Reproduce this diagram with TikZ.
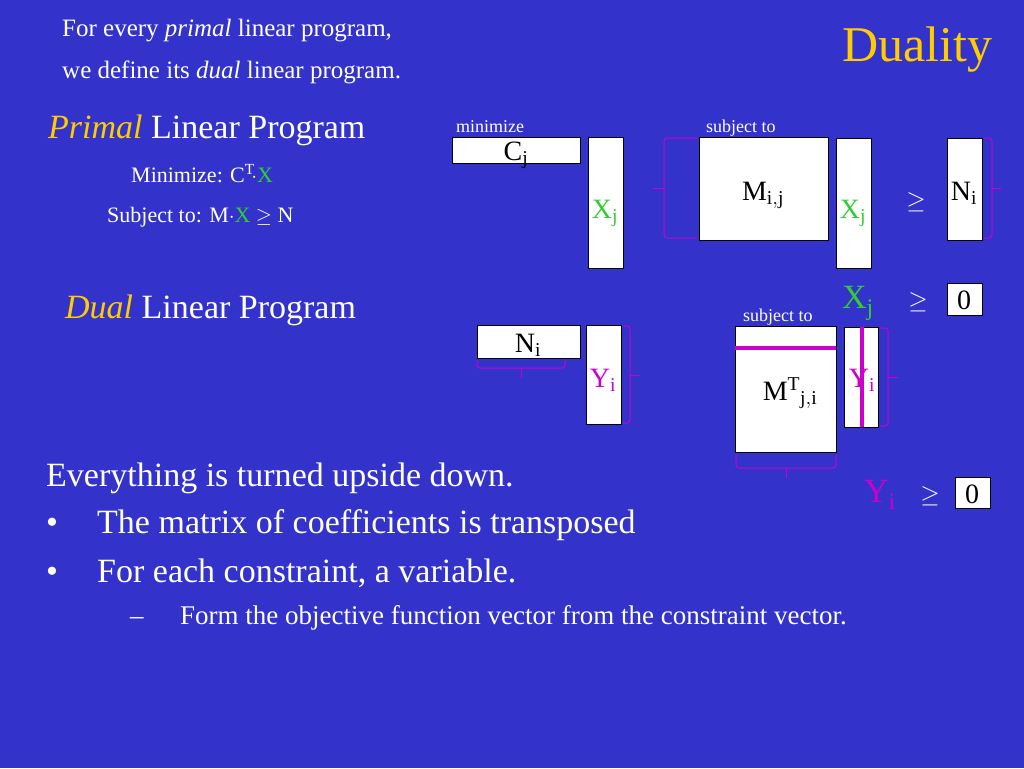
\documentclass[tikz,border=0pt]{standalone}
\usepackage{fontspec}
\setmainfont{Liberation Serif}
\usetikzlibrary{positioning}
\definecolor{slideblue}{RGB}{51,51,204}
\definecolor{vargreen}{RGB}{51,204,51}
\definecolor{dualpink}{RGB}{204,0,204}
\definecolor{titlegold}{RGB}{255,204,0}
\tikzset{
  txt/.style={anchor=base west,inner sep=0pt,text=white},
  vbox/.style={draw=black,fill=white,inner sep=0pt},
  brak/.style={draw=dualpink,line width=1pt,rounded corners=3pt},
}
\newcommand{\fs}[1]{\fontsize{#1}{#1}\selectfont}
\begin{document}
\begin{tikzpicture}[x=1pt,y=-1pt]
\fill[slideblue] (0,0) rectangle (1024,768);
\useasboundingbox (0,0) rectangle (1024,768);
% heading
\node[txt] (introa) at (62,37) {\fs{25}For every \textit{primal} linear program,};
\node[txt] (introb) at (62,78) {\fs{25}we define its \textit{dual} linear program.};
\node[anchor=base,inner sep=0pt,text=titlegold] (title) at (917,62) {\fs{50}Duality};
% primal text
\node[txt] (primal) at (48,138) {\fs{34}\textcolor{titlegold}{\textit{Primal}} Linear Program};
\node[txt] (pmin) at (131,182) {\fs{22}Minimize: C$^{\mathrm{T}}\!\cdot$\textcolor{vargreen}{X}};
\node[txt] (psub) at (107,222) {\fs{22}Subject to: M$\cdot$\textcolor{vargreen}{X} $\geq$ N};
\node[txt] (dual) at (65,318) {\fs{34}\textcolor{titlegold}{\textit{Dual}} Linear Program};
% primal matrices
\node[txt] (lmin) at (456,132) {\fs{18}minimize};
\node[txt] (lsubp) at (706,132) {\fs{18}subject to};
\draw[vbox] (452,137) rectangle (580,163);
\node[anchor=base,inner sep=0pt] (cj) at (516,160) {\fs{28}C$_{\mathrm{j}}$};
\draw[vbox] (588,137) rectangle (623,268);
\node[anchor=base,inner sep=0pt,text=vargreen] (xja) at (605,218) {\fs{28}X$_{\mathrm{j}}$};
\draw[vbox] (699,137) rectangle (828,240);
\node[anchor=base,inner sep=0pt] (mij) at (763,200) {\fs{28}M$_{\mathrm{i,j}}$};
\draw[brak] (697,138) -- (664,138) -- (664,238) -- (697,238);
\draw[brak] (664,188) -- (653,188);
\draw[vbox] (836,138) rectangle (871,268);
\node[anchor=base,inner sep=0pt,text=vargreen] (xjb) at (853,218) {\fs{28}X$_{\mathrm{j}}$};
\node[anchor=base,inner sep=0pt,text=white] (gea) at (916,208) {\fs{28}$\geq$};
\draw[vbox] (947,138) rectangle (982,240);
\node[anchor=base,inner sep=0pt] (ni) at (964,200) {\fs{28}N$_{\mathrm{i}}$};
\draw[brak] (984,138) -- (992,138) -- (992,238) -- (984,238);
\draw[brak] (992,188) -- (1001,188);
\node[anchor=base,inner sep=0pt,text=vargreen] (xjc) at (858,308) {\fs{34}X$_{\mathrm{j}}$};
\node[anchor=base,inner sep=0pt,text=white] (geb) at (918,308) {\fs{28}$\geq$};
\draw[vbox] (947,283) rectangle (982,315);
\node[anchor=base,inner sep=0pt] (zeroa) at (964,309) {\fs{28}0};
% dual matrices
\draw[vbox] (477,325) rectangle (580,358);
\node[anchor=base,inner sep=0pt] (nid) at (528,352) {\fs{28}N$_{\mathrm{i}}$};
\draw[brak] (477,360) -- (477,368) -- (565,368) -- (565,360);
\draw[brak] (521,368) -- (521,378);
\draw[vbox] (586,325) rectangle (621,424);
\node[anchor=base,inner sep=0pt,text=dualpink] (yia) at (603,387) {\fs{28}Y$_{\mathrm{i}}$};
\draw[brak] (623,326) -- (630,326) -- (630,423) -- (623,423);
\draw[brak] (630,375) -- (640,375);
\node[txt] (lsubd) at (743,321) {\fs{18}subject to};
\draw[vbox] (735,326) rectangle (836,452);
\draw[dualpink,line width=4pt] (735,348) -- (836,348);
\node[anchor=base,inner sep=0pt] (mt) at (790,400) {\fs{28}M$^{\mathrm{T}}{}_{\mathrm{j,i}}$};
\draw[brak] (736,454) -- (736,468) -- (836,468) -- (836,454);
\draw[brak] (786,468) -- (786,478);
\draw[vbox] (844,327) rectangle (878,427);
\draw[dualpink,line width=4pt] (862,327) -- (862,427);
\node[anchor=base,inner sep=0pt,text=dualpink] (yib) at (862,387) {\fs{28}Y$_{\mathrm{i}}$};
\draw[brak] (880,328) -- (888,328) -- (888,426) -- (880,426);
\draw[brak] (888,377) -- (898,377);
\node[anchor=base,inner sep=0pt,text=dualpink] (yic) at (880,502) {\fs{34}Y$_{\mathrm{i}}$};
\node[anchor=base,inner sep=0pt,text=white] (gec) at (930,502) {\fs{28}$\geq$};
\draw[vbox] (955,477) rectangle (990,508);
\node[anchor=base,inner sep=0pt] (zerob) at (972,503) {\fs{28}0};
% bottom text
\node[txt] (eva) at (46,486) {\fs{34}Everything is turned upside down.};
\node[txt] (bula) at (46,533) {\fs{34}\textbullet};
\node[txt] (evb) at (97,533) {\fs{34}The matrix of coefficients is transposed};
\node[txt] (bulb) at (46,582) {\fs{34}\textbullet};
\node[txt] (evc) at (97,582) {\fs{34}For each constraint, a variable.};
\node[txt] (dsh) at (130,624) {\fs{27}--};
\node[txt] (evd) at (180,624) {\fs{27}Form the objective function vector from the constraint vector.};
\end{tikzpicture}
\end{document}
